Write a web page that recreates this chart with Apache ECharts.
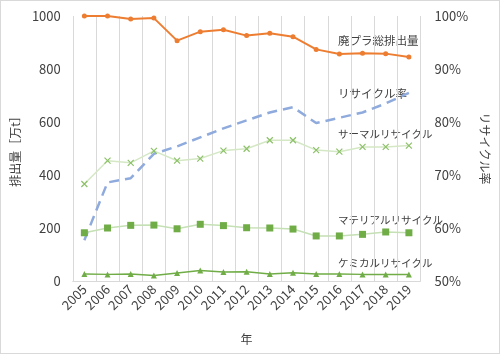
<!DOCTYPE html>
<html>
<head>
<meta charset="utf-8">
<script src="https://cdn.jsdelivr.net/npm/echarts@6/dist/echarts.min.js"></script>
<style>
  html, body { margin: 0; padding: 0; background: #fff; }
  #main { width: 498px; height: 352px; border: 1px solid #d9d9d9; }
</style>
</head>
<body>
<div id="main"></div>
<script>
// 年
const years = ['2005', '2006', '2007', '2008', '2009', '2010', '2011', '2012',
  '2013', '2014', '2015', '2016', '2017', '2018', '2019']
// 排出量 [万t]
const totalWaste = [1000, 1000, 989, 992, 907, 941, 948, 926, 935, 922, 874, 857, 859, 858, 845]
const thermal = [366, 454, 446, 491, 454, 462, 492, 499, 531, 531, 494, 488, 506, 506, 511]
const material = [182, 200, 210, 211, 197, 214, 209, 201, 200, 196, 170, 170, 176, 185, 182]
const chemical = [26, 25, 26, 21, 30, 40, 34, 35, 26, 31, 26, 26, 25, 25, 25]
// リサイクル率 [%]
const recycleRate = [57.7, 68.6, 69.4, 74.0, 75.4, 77.1, 78.8, 80.3, 81.8, 82.8, 79.8, 80.8, 81.8, 83.5, 85.5]

const font = '"Noto Sans CJK JP", "Noto Sans", sans-serif'
const txt = '#404040'

const chart = echarts.init(document.getElementById('main'))
chart.setOption({
  animation: false,
  textStyle: { fontFamily: font },
  grid: { left: 62, right: 73, top: 15, bottom: 72 },
  xAxis: {
    type: 'category',
    data: years,
    boundaryGap: true,
    name: '年',
    nameLocation: 'middle',
    nameGap: 52,
    nameTextStyle: { color: txt, fontSize: 12, fontFamily: font },
    axisLine: { lineStyle: { color: '#d9d9d9' } },
    axisTick: { show: false },
    axisLabel: { color: txt, fontSize: 13, rotate: 45, margin: 6, interval: 0, fontFamily: font },
    splitLine: { show: true, interval: 0, lineStyle: { color: '#d9d9d9' } }
  },
  yAxis: [
    {
      type: 'value',
      min: 0, max: 1000, interval: 200,
      name: '排出量［万t］',
      nameLocation: 'middle',
      nameGap: 40,
      nameTextStyle: { color: txt, fontSize: 12, fontFamily: font },
      axisLine: { show: false },
      axisTick: { show: false },
      splitLine: { show: false },
      axisLabel: { color: txt, fontSize: 13, margin: 12, formatter: v => String(v), fontFamily: font }
    },
    {
      type: 'value',
      min: 50, max: 100, interval: 10,
      name: 'リサイクル率',
      nameLocation: 'middle',
      nameRotate: -90,
      nameGap: 45,
      nameTextStyle: { color: txt, fontSize: 12, fontFamily: font },
      axisLine: { show: false },
      axisTick: { show: false },
      splitLine: { show: false },
      axisLabel: { color: txt, fontSize: 13, margin: 14, formatter: '{value}%', fontFamily: font }
    }
  ],
  series: [
    {
      name: '廃プラ総排出量',
      type: 'line',
      data: totalWaste,
      symbol: 'circle',
      symbolSize: 5,
      itemStyle: { color: '#ed7d31' },
      lineStyle: { color: '#ed7d31', width: 2 }
    },
    {
      name: 'リサイクル率',
      type: 'line',
      yAxisIndex: 1,
      data: recycleRate,
      symbol: 'none',
      lineStyle: { color: '#8faadc', width: 2.5, type: [10, 6] }
    },
    {
      name: 'サーマルリサイクル',
      type: 'line',
      data: thermal,
      symbol: 'path://M0,0 L10,10 M10,0 L0,10',
      symbolSize: 6,
      itemStyle: { color: 'none', borderColor: '#8cc168', borderWidth: 1.2 },
      lineStyle: { color: '#d5e8c5', width: 1.5 }
    },
    {
      name: 'マテリアルリサイクル',
      type: 'line',
      data: material,
      symbol: 'rect',
      symbolSize: 7,
      itemStyle: { color: '#70ad47' },
      lineStyle: { color: '#c5e0b4', width: 1.5 }
    },
    {
      name: 'ケミカルリサイクル',
      type: 'line',
      data: chemical,
      symbol: 'triangle',
      symbolSize: 6,
      itemStyle: { color: '#70ad47' },
      lineStyle: { color: '#70ad47', width: 1.5 }
    }
  ],
  graphic: [
    { type: 'text', left: 337, top: 34, style: { text: '廃プラ総排出量', fill: txt, fontSize: 11.5, fontFamily: font } },
    { type: 'text', left: 337, top: 87, style: { text: 'リサイクル率', fill: txt, fontSize: 11.5, fontFamily: font } },
    { type: 'text', left: 337, top: 128, style: { text: 'サーマルリサイクル', fill: txt, fontSize: 10.5, fontFamily: font } },
    { type: 'text', left: 337, top: 214, style: { text: 'マテリアルリサイクル', fill: txt, fontSize: 10.5, fontFamily: font } },
    { type: 'text', left: 337, top: 257, style: { text: 'ケミカルリサイクル', fill: txt, fontSize: 10.5, fontFamily: font } }
  ]
})
</script>
</body>
</html>
